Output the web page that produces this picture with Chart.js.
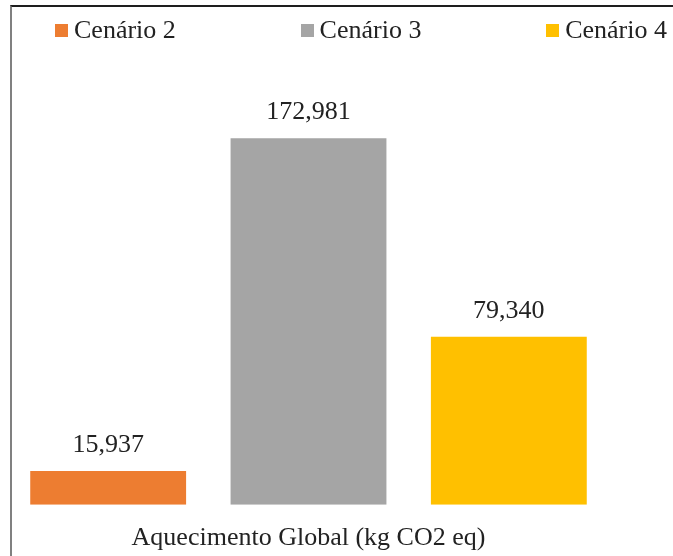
<!DOCTYPE html>
<html>
<head>
<meta charset="utf-8">
<script src="https://cdn.jsdelivr.net/npm/chart.js@4.4.1/dist/chart.umd.min.js"></script>
<style>
  html, body { margin: 0; padding: 0; background: #fff; overflow: hidden; }
  #wrap { position: relative; width: 673px; height: 556px; overflow: hidden; }
  #frame { position: absolute; left: 10px; top: 5px; width: 700px; height: 600px;
           border-top: 2px solid #1e1e1e; border-left: 2px solid #808080; }
  #legend { position: absolute; left: 55px; width: 612px; top: 15px; display: flex;
            justify-content: space-between; font: 26px "Liberation Serif", "Times New Roman", serif; color: #222; }
  .item { display: flex; align-items: center; white-space: nowrap; }
  .swatch { width: 13px; height: 13px; margin-right: 6px; }
  canvas { position: absolute; left: 0; top: 0; }
</style>
</head>
<body>
<div id="wrap">
  <div id="frame"></div>
  <canvas id="chart" width="673" height="556"></canvas>
  <div id="legend"></div>
</div>
<script>
  /* ── Data ── */
  const categories = ['Aquecimento Global (kg CO2 eq)'];
  const seriesNames = ['Cenário 2', 'Cenário 3', 'Cenário 4'];
  const seriesValues = [15.937, 172.981, 79.340];
  const seriesColors = ['#ED7D31', '#A5A5A5', '#FFC000'];

  const FONT = '"Liberation Serif", "Times New Roman", serif';

  // decimal comma, three places
  function fmt(v) { return v.toFixed(3).replace('.', ','); }

  /* ── Legend ── */
  const legendEl = document.getElementById('legend');
  seriesNames.forEach((name, i) => {
    legendEl.innerHTML += `<div class="item"><span class="swatch" style="background:${seriesColors[i]};"></span>${name}</div>`;
  });

  /* ── Value labels above bars ── */
  const valueLabels = {
    id: 'valueLabels',
    afterDatasetsDraw(chart) {
      const ctx = chart.ctx;
      ctx.save();
      ctx.font = '26px ' + FONT;
      ctx.fillStyle = '#222';
      ctx.textAlign = 'center';
      ctx.textBaseline = 'alphabetic';
      chart.data.datasets.forEach((ds, i) => {
        chart.getDatasetMeta(i).data.forEach((bar, j) => {
          ctx.fillText(fmt(ds.data[j]), bar.x, bar.y - 19);
        });
      });
      ctx.restore();
    }
  };

  new Chart(document.getElementById('chart'), {
    type: 'bar',
    data: {
      labels: categories,
      datasets: seriesNames.map((name, i) => ({
        label: name,
        data: [seriesValues[i]],
        backgroundColor: seriesColors[i],
        borderWidth: 0,
        categoryPercentage: 1,
        barPercentage: 0.778
      }))
    },
    options: {
      responsive: false,
      devicePixelRatio: 1,
      animation: false,
      layout: { padding: { left: 8, right: 64, top: 81, bottom: -16 } },
      plugins: { legend: { display: false }, tooltip: { enabled: false } },
      scales: {
        x: {
          grid: { display: false, drawTicks: false },
          border: { display: false },
          ticks: { font: { family: FONT, size: 26 }, color: '#222', padding: 18 }
        },
        y: { display: false, min: 0, max: 200 }
      }
    },
    plugins: [valueLabels]
  });
</script>
</body>
</html>
